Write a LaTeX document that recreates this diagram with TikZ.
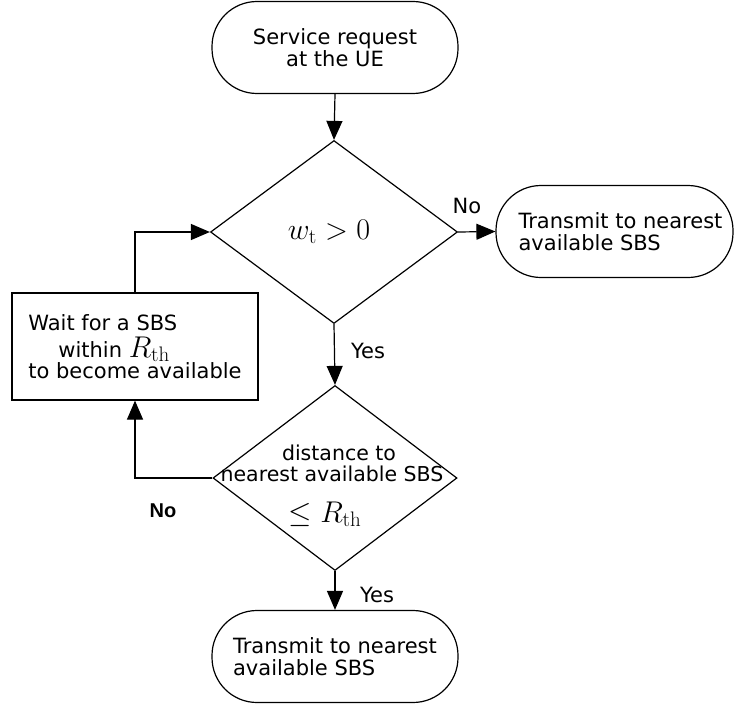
\documentclass[tikz,border=0pt]{standalone}
\usepackage{fix-cm}
\usepackage[no-math]{fontspec}
\setmainfont{DejaVu Sans}
\newfontfamily\labelbold{Liberation Sans}
\usetikzlibrary{shapes.geometric,arrows.meta}
% larger maths inside the flowchart text
\newcommand{\mathbig}[1]{{\fontsize{30}{32}\selectfont$#1$}}

\begin{document}
\begin{tikzpicture}[x=1pt,y=-1pt,
  every node/.style={font=\fontsize{21}{22.5}\selectfont},
  flow/.style={line width=1.2pt},
  link/.style={flow,-{Triangle[length=19pt,width=16pt]}},
  terminal/.style={draw,flow,rectangle,rounded corners=45pt,
    minimum height=92pt,inner sep=0pt},
  decision/.style={draw,flow,diamond,inner sep=0pt},
  waitbox/.style={draw,flow,rectangle,minimum width=246pt,
    minimum height=107pt,inner sep=0pt,align=left,
    font=\fontsize{21}{20}\selectfont},
  bigno/.style={font=\labelbold\bfseries\fontsize{20}{22}\selectfont}
]
\useasboundingbox (0,0) rectangle (735,706);

% terminals
\node[terminal,minimum width=246pt,align=center] (start) at (335,47.5)
  {Service request\\at the UE};
\node[terminal,minimum width=237pt,align=left] (near) at (614.5,231.5)
  {\hspace*{12pt}Transmit to nearest\\\hspace*{12pt}available SBS};
\node[terminal,minimum width=246pt,align=left] (done) at (335,656.5)
  {Transmit to nearest\\available SBS};

% decisions
\node[decision,minimum width=247pt,minimum height=183pt] (wait) at (334,232)
  {\mathbig{w_{\mathrm{t}} > 0}\hspace*{10pt}};
\node[decision,minimum width=244pt,minimum height=185pt] (dist) at (335,478) {};
\node[align=center,font=\fontsize{20.5}{20.5}\selectfont] (disttxt) at (332,486)
  {\hspace*{14pt}distance to\\nearest available SBS\\[19pt]\mathbig{\le R_{\mathrm{th}}}\hspace*{14pt}};

% waiting step
\node[waitbox] (hold) at (135,346.5)
  {Wait for a SBS\\[5pt]\hspace*{30pt}within \mathbig{R_{\mathrm{th}}}\\to become available};

% connectors
\draw[link] (start.south) -- (wait.north);
\draw[link] (wait.east) -- (near.west);
\draw[link] (wait.south) -- (dist.north);
\draw[link] (dist.west) -| (hold.south);
\draw[link] (hold.north) |- (wait.west);
\draw[link] (dist.south) -- (done.north);

% branch labels
\node (noA) at (467,206) {No};
\node (yesA) at (368,351) {Yes};
\node[bigno] (noB) at (163,511) {No};
\node (yesB) at (377,595) {Yes};
\end{tikzpicture}
\end{document}
